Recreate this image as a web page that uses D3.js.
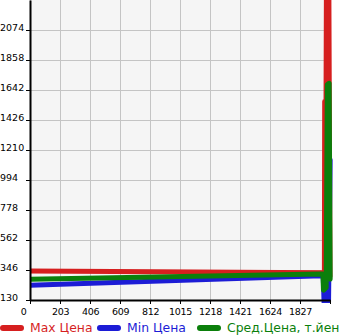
<!DOCTYPE html>
<html>
<head>
<meta charset="utf-8">
<script src="https://cdn.jsdelivr.net/npm/d3@7"></script>
<style>
  body { margin: 0; background: #fff; }
  svg { display: block; font-family: 'DejaVu Sans', sans-serif; }
</style>
</head>
<body>
<div id="chart"></div>
<script>
const xTicks = [0, 203, 406, 609, 812, 1015, 1218, 1421, 1624, 1827, 2030];
const yTicks = [130, 346, 562, 778, 994, 1210, 1426, 1642, 1858, 2074];

const seriesNames = ['Max Цена', 'Min Цена', 'Сред.Цена, т.йен'];
const seriesColors = ['#d61f1f', '#1c1cd6', '#0b7f0b'];

const maxPrice = [
  [0, 339], [1975, 327], [1992, 329], [1994, 1560], [1999, 300],
  [2006, 2450], [2014, 290], [2022, 2450], [2030, 300]
];
const minPrice = [
  [0, 236], [1970, 305], [1984, 308], [1990, 110], [2005, 115],
  [2020, 110], [2031, 1140]
];
const avgPrice = [
  [0, 279], [1968, 317], [1982, 317], [1986, 200], [2004, 220],
  [2012, 1680], [2024, 1690], [2031, 280]
];

function drawChart() {
  const svg = d3
    .select('div#chart')
    .append('svg')
    .attr('width', 345)
    .attr('height', 335);
  const margin = { top: 0, left: 30, right: 15, bottom: 35 };
  const chartWidth = 345 - margin.left - margin.right;
  const chartHeight = 335 - margin.top - margin.bottom;

  const xScale = d3.scaleLinear().domain([0, 2030]).range([0, chartWidth]);
  const yScale = d3.scaleLinear().domain([130, 2290]).range([chartHeight, 0]);

  const chartArea = svg
    .append('g')
    .attr('transform', `translate(${margin.left},${margin.top})`);

  chartArea
    .append('rect')
    .attr('width', chartWidth)
    .attr('height', chartHeight)
    .style('fill', '#f5f5f5');

  // gridlines
  chartArea
    .append('g')
    .attr('class', 'grid')
    .call(d3.axisLeft(yScale).tickValues(yTicks).tickSize(-chartWidth).tickFormat(''))
    .call((g) => g.select('.domain').remove())
    .call((g) => g.selectAll('line').style('stroke', '#c4c4c4'));
  chartArea
    .append('g')
    .attr('class', 'grid')
    .attr('transform', `translate(0,${chartHeight})`)
    .call(d3.axisBottom(xScale).tickValues(xTicks).tickSize(-chartHeight).tickFormat(''))
    .call((g) => g.select('.domain').remove())
    .call((g) => g.selectAll('line').style('stroke', '#c4c4c4'));

  svg
    .append('clipPath')
    .attr('id', 'plotclip')
    .append('rect')
    .attr('width', chartWidth + 4)
    .attr('height', chartHeight + 5)
    .attr('y', -2);

  const lineGen = d3
    .line()
    .x((d) => xScale(d[0]))
    .y((d) => yScale(d[1]));

  const lines = chartArea.append('g').attr('clip-path', 'url(#plotclip)');
  [maxPrice, minPrice, avgPrice].forEach((data, i) => {
    lines
      .append('path')
      .attr('d', lineGen(data))
      .style('fill', 'none')
      .style('stroke', seriesColors[i])
      .style('stroke-width', 5)
      .style('stroke-linecap', 'round')
      .style('stroke-linejoin', 'round');
  });

  // axes
  const leftAxis = chartArea
    .append('g')
    .call(
      d3
        .axisLeft(yScale)
        .tickValues(yTicks)
        .tickSize(4)
        .tickSizeOuter(0)
        .tickFormat(d3.format('d'))
    );
  leftAxis.select('.domain').style('stroke', '#000').style('stroke-width', 2);
  leftAxis
    .selectAll('text')
    .attr('text-anchor', 'start')
    .attr('x', -30)
    .attr('dy', '0')
    .style('font-size', '9.5px')
    .style('font-family', 'DejaVu Sans');

  const bottomAxis = chartArea
    .append('g')
    .attr('transform', `translate(0,${chartHeight})`)
    .call(
      d3
        .axisBottom(xScale)
        .tickValues(xTicks)
        .tickSize(4)
        .tickSizeOuter(0)
        .tickFormat((d) => (d === 2030 ? '' : d))
    );
  bottomAxis.select('.domain').style('stroke', '#000').style('stroke-width', 2);
  bottomAxis
    .selectAll('text')
    .attr('y', 8)
    .style('font-size', '9.5px')
    .style('letter-spacing', '-0.3px')
    .style('font-family', 'DejaVu Sans');
  bottomAxis
    .selectAll('.tick')
    .filter((d) => d === 0)
    .select('text')
    .attr('dx', -7);

  // legend
  const legendX = [2, 99, 199];
  const legend = svg.append('g').attr('id', 'legend');
  legend
    .selectAll('line')
    .data(seriesNames)
    .join('line')
    .attr('x1', (d, i) => legendX[i] + 1)
    .attr('x2', (d, i) => legendX[i] + 19)
    .attr('y1', 328)
    .attr('y2', 328)
    .style('stroke', (d, i) => seriesColors[i])
    .style('stroke-width', 6)
    .style('stroke-linecap', 'round');
  legend
    .selectAll('text')
    .data(seriesNames)
    .join('text')
    .attr('x', (d, i) => legendX[i] + 28)
    .attr('y', 332)
    .style('font-size', '12.4px')
    .style('fill', (d, i) => seriesColors[i])
    .text((d) => d);
}

drawChart();
</script>
</body>
</html>
